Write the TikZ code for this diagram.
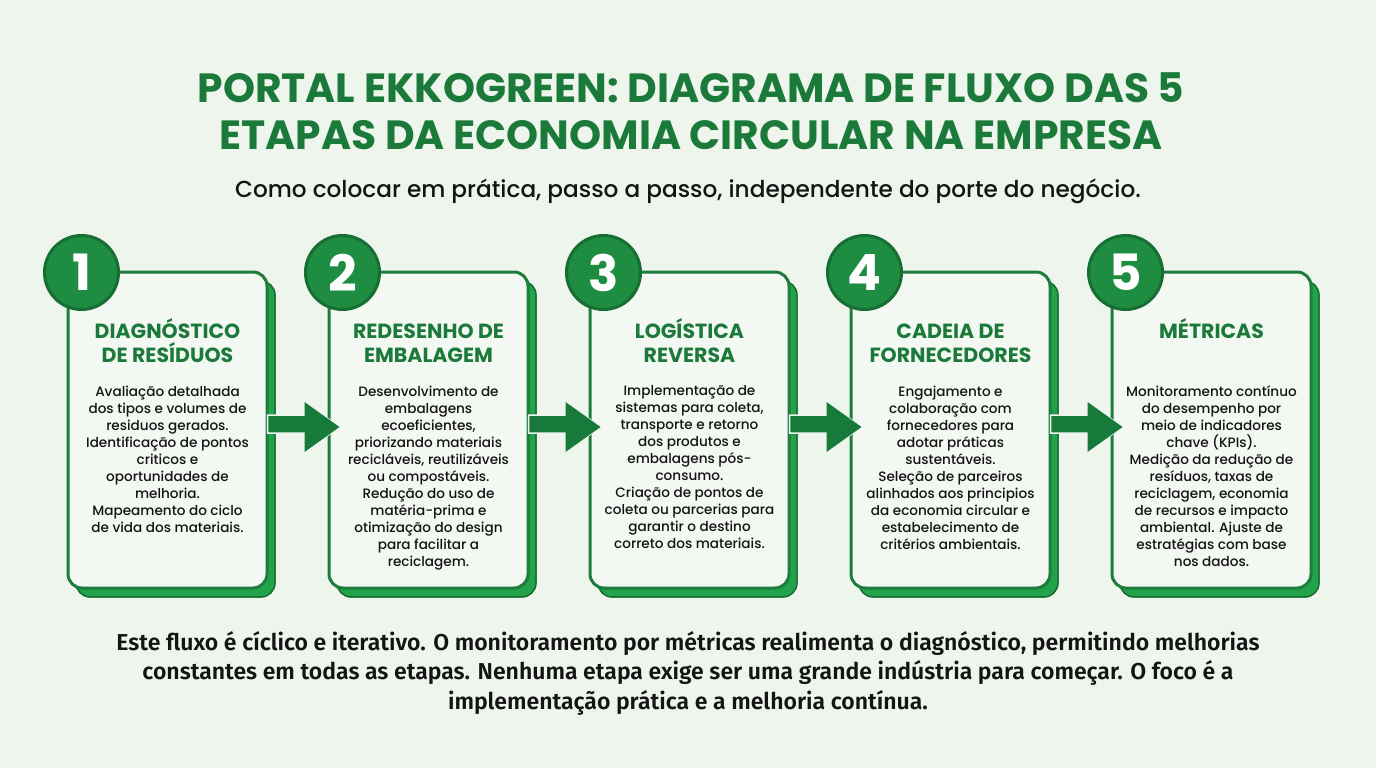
\documentclass[tikz,border=0pt]{standalone}
\usepackage{fontspec}
\setmainfont{Poppins}
\newfontfamily\popmed{Poppins Medium}
\newfontfamily\popbold{Poppins Bold}
\newfontfamily\firasb{Fira Sans SemiBold}
\usetikzlibrary{calc}
\definecolor{bgc}{HTML}{EDF5EC}
\definecolor{cardfill}{HTML}{F3F8F2}
\definecolor{darkg}{HTML}{1B7A3A}
\definecolor{borderg}{HTML}{1C7D3C}
\definecolor{shadowg}{HTML}{22A24B}
\definecolor{circg}{HTML}{1F8D41}
\definecolor{circb}{HTML}{166E33}
\definecolor{arrowg}{HTML}{187A3A}
\definecolor{textk}{HTML}{141414}
\tikzset{
  cardbox/.style={draw=borderg, line width=3pt, fill=cardfill, rounded corners=14pt,
    minimum width=199pt, minimum height=316pt, inner sep=0pt},
  cardshadow/.style={draw=circb, line width=1.2pt, fill=shadowg, rounded corners=14pt},
  numcirc/.style={circle, draw=circb, line width=3pt, fill=circg, minimum size=74pt, inner sep=0pt,
    text=white, font=\popbold\fontsize{50}{50}\selectfont},
  cardtitle/.style={anchor=north, align=center, text=darkg, inner sep=0pt,
    font=\popbold\fontsize{20.5}{24}\selectfont},
  cardbody/.style={anchor=north, align=center, text=textk, inner sep=0pt,
    font=\popmed\fontsize{13.6}{17}\selectfont},
  flowarrow/.style={fill=arrowg, draw=bgc, line width=1.5pt}
}
\newcommand\tstrut{\rule{0pt}{21pt}}
\begin{document}
\begin{tikzpicture}[x=1pt,y=-1pt]
\useasboundingbox (0,0) rectangle (1376,768);
\fill[bgc] (0,0) rectangle (1376,768);

% Title
\node[text=darkg, font=\popbold\fontsize{40.8}{47}\selectfont, align=center, inner sep=0pt] (title) at (691,111)
  {PORTAL EKKOGREEN: DIAGRAMA DE FLUXO DAS 5\\ETAPAS DA ECONOMIA CIRCULAR NA EMPRESA};
\node[text=textk, font=\popmed\fontsize{23.2}{26}\selectfont, inner sep=0pt] (subtitle) at (688,191)
  {Como colocar em prática, passo a passo, independente do porte do negócio.};

% Shadows
\foreach \i in {0,...,4}{
  \fill[cardshadow] (76+261*\i,281) rectangle (275+261*\i,597);
  \draw[circb, line width=1.2pt, rounded corners=14pt] (76+261*\i,281) rectangle (275+261*\i,597);
}
% Cards
\node[cardbox] (c1) at (167.5,430) {};
\node[cardbox] (c2) at (428.5,430) {};
\node[cardbox] (c3) at (689.5,430) {};
\node[cardbox] (c4) at (950.5,430) {};
\node[cardbox] (c5) at (1211.5,430) {};

% Arrows
\foreach \a/\b in {c1/c2,c2/c3,c3/c4,c4/c5}{
  \path[flowarrow] ($(\a.east)+(-1,-15)$) -- ($(\a.east)+(36,-15)$) -- ($(\a.east)+(36,-28)$)
     -- ($(\b.west)+(12,-3)$) -- ($(\a.east)+(36,22)$) -- ($(\a.east)+(36,3)$) -- ($(\a.east)+(-1,3)$) -- cycle;
  \fill[arrowg] ($(\a.east)+(36,-28)$) -- ($(\b.west)+(12,-3)$) -- ($(\a.east)+(36,22)$) -- cycle;
}

% Number circles
\node[numcirc] (n1) at ($(c1.north west)+(15,2)$) {1};
\node[numcirc] (n2) at ($(c2.north west)+(15,2)$) {2};
\node[numcirc] (n3) at ($(c3.north west)+(15,2)$) {3};
\node[numcirc] (n4) at ($(c4.north west)+(15,2)$) {4};
\node[numcirc] (n5) at ($(c5.north west)+(15,2)$) {5};

% Titles
\node[cardtitle] (t1) at ($(c1.north)+(0,47)$) {\tstrut DIAGNÓSTICO\\DE RESÍDUOS};
\node[cardtitle] (t2) at ($(c2.north)+(0,47)$) {\tstrut REDESENHO DE\\EMBALAGEM};
\node[cardtitle] (t3) at ($(c3.north)+(0,47)$) {\tstrut LOGÍSTICA\\REVERSA};
\node[cardtitle] (t4) at ($(c4.north)+(0,47)$) {\tstrut CADEIA DE\\FORNECEDORES};
\node[cardtitle] (t5) at ($(c5.north)+(0,47)$) {\tstrut MÉTRICAS};

% Bodies
\node[cardbody] (b1) at ($(c1.north)+(0,115)$) {Avaliação detalhada\\dos tipos e volumes de\\residuos gerados.\\Identificação de pontos\\criticos e\\oportunidades de\\melhoria.\\Mapeamento do ciclo\\de vida dos materiais.};
\node[cardbody] (b2) at ($(c2.north)+(0,115)$) {Desenvolvimento de\\embalagens\\ecoeficientes,\\priorizando materiais\\recicláveis, reutilizáveis\\ou compostáveis.\\Redução do uso de\\matéria-prima e\\otimização do design\\para facilitar a\\reciclagem.};
\node[cardbody] (b3) at ($(c3.north)+(0,115)$) {Implementação de\\sistemas para coleta,\\transporte e retorno\\dos produtos e\\embalagens pós-\\consumo.\\Criação de pontos de\\coleta ou parcerias para\\garantir o destino\\correto dos materiais.};
\node[cardbody] (b4) at ($(c4.north)+(0,115)$) {Engajamento e\\colaboração com\\fornecedores para\\adotar práticas\\sustentáveis.\\Seleção de parceiros\\alinhados aos principios\\da economia circular e\\estabelecimento de\\critérios ambientais.};
\node[cardbody] (b5) at ($(c5.north)+(0,115)$) {Monitoramento contínuo\\do desempenho por\\meio de indicadores\\chave (KPIs).\\Medição da redução de\\resíduos, taxas de\\reciclagem, economia\\de recursos e impacto\\ambiental. Ajuste de\\estratégias com base\\nos dados.};

% Footer
\node[text=textk, font=\firasb\fontsize{23}{29.5}\selectfont, align=center, inner sep=0pt] (footer) at (688,673)
  {Este fluxo é cíclico e iterativo. O monitoramento por métricas realimenta o diagnóstico, permitindo melhorias\\constantes em todas as etapas. Nenhuma etapa exige ser uma grande indústria para começar. O foco é a\\implementação prática e a melhoria contínua.};
\end{tikzpicture}
\end{document}
